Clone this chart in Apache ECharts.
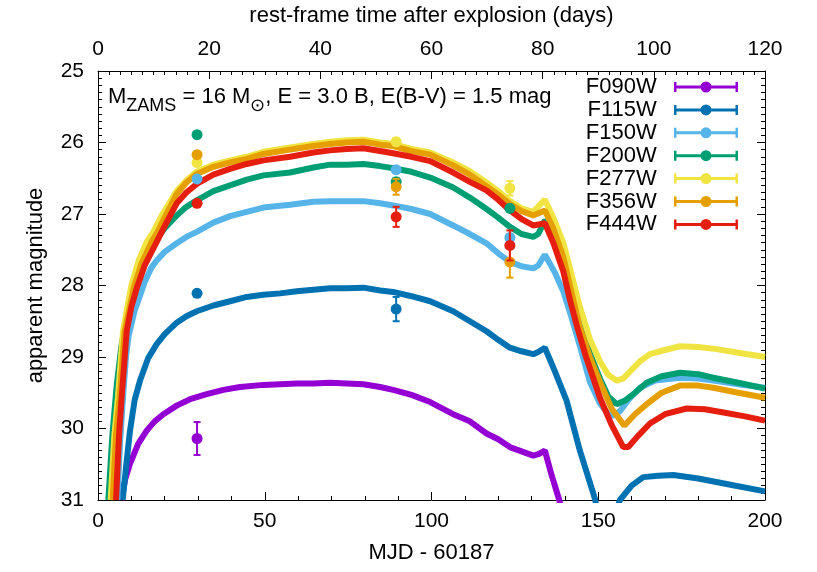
<!DOCTYPE html>
<html>
<head>
<meta charset="utf-8">
<script src="https://cdn.jsdelivr.net/npm/echarts@6/dist/echarts.min.js"></script>
<style>
  html, body { margin: 0; padding: 0; background: #fff; }
  #chart { width: 817px; height: 572px; }
</style>
</head>
<body>
<div id="chart"></div>
<script>
// model light curves: [MJD - 60187, apparent magnitude]
const f090w = [[7.0,31.0],[8.2,30.7],[9.6,30.49],[12,30.22],[14.6,30.03],[17,29.9],[19.6,29.8],[23.6,29.68],[27.6,29.59],[32.6,29.52],[37.6,29.46],[42.6,29.42],[49.6,29.39],[54.6,29.38],[59.6,29.37],[64.6,29.37],[69.6,29.36],[74.6,29.37],[79.6,29.38],[84.6,29.42],[88.5,29.46],[94,29.53],[99.6,29.63],[106.5,29.8],[111.5,29.9],[116.5,30.07],[120,30.15],[123.5,30.26],[127,30.32],[130.5,30.38],[132,30.36],[134,30.31],[136,30.65],[138.3,31.0],[140,31.3]]
const f115w = [[7.4,31.0],[8.5,30.5],[9.6,30.03],[11,29.6],[12.6,29.33],[15,29.02],[17.6,28.82],[20,28.68],[23.6,28.52],[26.5,28.43],[29.6,28.36],[34.6,28.28],[39.6,28.22],[44.6,28.16],[49.6,28.13],[54.6,28.11],[59.6,28.08],[64.6,28.06],[69.6,28.04],[74.6,28.04],[79.6,28.03],[84.6,28.07],[88.5,28.09],[94,28.15],[99.6,28.22],[106.5,28.36],[111.5,28.5],[116.5,28.64],[120,28.76],[123.5,28.87],[127,28.92],[130.5,28.96],[132,28.93],[134,28.87],[137,29.2],[140.5,29.61],[144.5,30.31],[149,30.98],[150,31.2],[152,'-'],[155,31.2],[156.5,31.0],[160,30.8],[163.5,30.68],[168,30.66],[172.5,30.65],[180,30.7],[190,30.79],[200,30.88]]
const f150w = [[5.8,31.0],[6.6,30.2],[7.5,29.56],[8.4,29.0],[9.2,28.7],[11,28.35],[12.6,28.14],[14,27.95],[16,27.75],[17.6,27.65],[20,27.53],[23.6,27.41],[26.5,27.32],[29.6,27.25],[34.6,27.12],[39.6,27.03],[44.6,26.97],[49.6,26.91],[57.6,26.87],[64.6,26.83],[69.6,26.82],[74.6,26.82],[79.6,26.82],[84.6,26.85],[88.5,26.88],[94,26.93],[99.6,27.0],[106.5,27.16],[111.5,27.28],[116.5,27.41],[120,27.55],[123.5,27.67],[127,27.73],[130.5,27.76],[132,27.72],[134,27.57],[137,27.82],[139.5,28.08],[142,28.45],[144.5,28.85],[147.5,29.35],[150.5,29.65],[153,29.8],[154.5,29.82],[156.5,29.76],[159,29.6],[162.5,29.43],[167,29.33],[174.5,29.29],[180,29.3],[184.5,29.33],[192,29.38],[200,29.43]]
const f200w = [[3.1,31.0],[4.3,30.1],[5.6,29.4],[7,28.85],[8.6,28.45],[10,28.15],[12,27.85],[14,27.62],[16,27.47],[18,27.33],[20,27.2],[23.6,27.02],[26.5,26.9],[29.6,26.81],[34.6,26.68],[39.6,26.6],[44.6,26.52],[49.6,26.46],[57.6,26.42],[64.6,26.35],[69.6,26.31],[74.6,26.31],[79.6,26.3],[84.6,26.33],[88.5,26.36],[94,26.41],[99.6,26.49],[106.5,26.63],[111.5,26.77],[116.5,26.93],[120,27.05],[123.5,27.18],[127,27.28],[130.5,27.32],[132,27.28],[134,27.09],[136.5,27.2],[139.5,27.5],[142,27.95],[144.5,28.45],[147.5,28.95],[150.5,29.3],[153,29.55],[155.5,29.66],[158,29.61],[161,29.5],[164.5,29.36],[169,29.27],[174.5,29.22],[180,29.24],[184.5,29.29],[192,29.36],[200,29.44]]
const f277w = [[3.8,31.0],[4.9,30.1],[6.0,29.56],[7.5,28.64],[10,28.0],[12.2,27.65],[14.6,27.39],[16.6,27.25],[19,27.03],[21,26.88],[23.6,26.68],[26.5,26.53],[29.6,26.41],[34.6,26.31],[39.6,26.25],[44.6,26.2],[49.6,26.13],[57.6,26.07],[64.6,26.02],[69.6,25.99],[74.6,25.97],[79.6,25.96],[84.6,26.0],[88.5,26.02],[94,26.09],[99.6,26.14],[106.5,26.28],[111.5,26.4],[116.5,26.56],[120,26.68],[123.5,26.82],[127,26.92],[130.5,26.97],[134,26.8],[136.5,27.05],[139.5,27.4],[142,27.85],[144.5,28.3],[147.5,28.75],[150.5,29.06],[153,29.25],[155.5,29.33],[157.5,29.3],[160,29.18],[162.5,29.06],[165.5,28.96],[168.5,28.92],[174.5,28.85],[180,28.86],[185.5,28.89],[192,28.94],[200,29.0]]
const f356w = [[4.4,31.0],[5.4,30.1],[6.5,29.56],[8.0,28.64],[10.8,28.02],[13,27.7],[16.1,27.39],[17.9,27.25],[20,27.05],[23.6,26.72],[26.5,26.56],[29.6,26.44],[34.6,26.34],[39.6,26.28],[44.6,26.23],[49.6,26.16],[57.6,26.1],[64.6,26.05],[69.6,26.02],[74.6,26.0],[79.6,25.99],[84.6,26.03],[88.5,26.05],[94,26.12],[99.6,26.17],[106.5,26.32],[111.5,26.45],[116.5,26.61],[120,26.73],[123.5,26.86],[127,26.96],[130.5,27.02],[134,26.95],[136.5,27.2],[139.5,27.6],[142,28.1],[144.5,28.59],[147.5,29.0],[150.5,29.35],[154,29.72],[157.8,29.96],[161,29.8],[164.5,29.66],[169,29.5],[174.5,29.4],[180,29.4],[184.5,29.43],[192,29.5],[200,29.57]]
const f444w = [[5.4,31.0],[6.3,30.1],[7.1,29.56],[8.6,28.64],[10,28.3],[11.6,28.04],[14,27.72],[17.6,27.39],[19.1,27.25],[21,27.08],[23.6,26.85],[26.5,26.7],[29.6,26.58],[34.6,26.45],[39.6,26.37],[44.6,26.3],[49.6,26.25],[57.6,26.2],[64.6,26.14],[69.6,26.11],[74.6,26.09],[79.6,26.08],[84.6,26.12],[88.5,26.15],[94,26.2],[99.6,26.26],[106.5,26.42],[111.5,26.55],[116.5,26.67],[120,26.8],[123.5,26.95],[127,27.07],[130.5,27.16],[134,27.13],[136.5,27.4],[139.5,27.8],[141.5,28.2],[143.5,28.55],[146,28.95],[150.5,29.57],[154,29.95],[157.5,30.26],[159,30.26],[162,30.1],[165.5,29.93],[170,29.8],[176.5,29.72],[182,29.73],[188,29.78],[194,29.83],[200,29.89]]

// observed photometry: [MJD - 60187, magnitude, error]
const obsF090W = [[29.7,30.14,0.23]]
const obsF115W = [[29.7,28.11,0.03],[89.4,28.33,0.17]]
const obsF150W = [[29.7,26.51,0.02],[89.4,26.38,0.03],[123.5,27.33,0.05]]
const obsF200W = [[29.7,25.89,0.02],[89.4,26.55,0.05],[123.5,26.92,0.04]]
const obsF277W = [[29.7,26.28,0.02],[89.4,25.99,0.05],[123.5,26.64,0.1]]
const obsF356W = [[29.7,26.17,0.02],[89.4,26.62,0.11],[123.5,27.67,0.22]]
const obsF444W = [[29.7,26.85,0.03],[89.4,27.04,0.14],[123.5,27.44,0.21]]

const filters = ['F090W','F115W','F150W','F200W','F277W','F356W','F444W']
const colors = ['#9400D3','#0072B2','#56B4E9','#009E73','#F0E442','#E69F00','#E51E10']
const models = [f090w, f115w, f150w, f200w, f277w, f356w, f444w]
const obs = [obsF090W, obsF115W, obsF150W, obsF200W, obsF277W, obsF356W, obsF444W]

const FONT = '"Liberation Sans", Arial, Helvetica, sans-serif'

// legend icon: line with caps and a dot (64 x 12)
const legendIcon = 'path://M2 4.5H27V7.5H2Z M37 4.5H62V7.5H37Z M0 1H2.5V11H0Z M61.5 1H64V11H61.5Z M26.5 6A5.5 5.5 0 1 1 37.5 6A5.5 5.5 0 1 1 26.5 6Z'

function renderErr(params, api) {
    const x = api.value(0), y = api.value(1), e = api.value(2)
    const c = api.coord([x, y])
    const t = api.coord([x, y - e])
    const b = api.coord([x, y + e])
    const color = api.visual('color')
    const st = {stroke: color, lineWidth: 2}
    return {
        type: 'group',
        children: [
            {type: 'line', shape: {x1: c[0], y1: t[1], x2: c[0], y2: b[1]}, style: st},
            {type: 'line', shape: {x1: c[0] - 3.5, y1: t[1], x2: c[0] + 3.5, y2: t[1]}, style: st},
            {type: 'line', shape: {x1: c[0] - 3.5, y1: b[1], x2: c[0] + 3.5, y2: b[1]}, style: st},
            {type: 'circle', shape: {cx: c[0], cy: c[1], r: 5.5}, style: {fill: color}}
        ]
    }
}

let series = []
filters.forEach((f, i) => {
    series.push({
        name: f,
        type: 'line',
        xAxisIndex: 0,
        yAxisIndex: 0,
        data: models[i],
        showSymbol: false,
        symbol: 'none',
        clip: true,
        z: 2,
        itemStyle: {color: colors[i]},
        lineStyle: {color: colors[i], width: 6}
    })
})
filters.forEach((f, i) => {
    series.push({
        name: f,
        type: 'custom',
        xAxisIndex: 0,
        yAxisIndex: 0,
        data: obs[i],
        renderItem: renderErr,
        clip: true,
        z: 3,
        itemStyle: {color: colors[i]}
    })
})

const axisCommon = {
    axisLine: {show: true, onZero: false, lineStyle: {color: '#000', width: 1}},
    axisTick: {show: true, inside: true, length: 8, lineStyle: {color: '#000', width: 1}},
    minorTick: {show: true, length: 4, lineStyle: {color: '#000', width: 1}},
    splitLine: {show: false},
    axisLabel: {fontSize: 21, color: '#000', fontFamily: FONT},
    nameTextStyle: {fontSize: 22, color: '#000', fontFamily: FONT}
}

let myChart = echarts.init(document.getElementById('chart'))
myChart.setOption({
    animation: false,
    backgroundColor: '#fff',
    grid: {left: 98, right: 52, top: 68, bottom: 72, containLabel: false},
    xAxis: [
        Object.assign({}, axisCommon, {
            type: 'value', position: 'bottom', min: 0, max: 200, interval: 50,
            minorTick: Object.assign({}, axisCommon.minorTick, {splitNumber: 5}),
            axisLabel: Object.assign({}, axisCommon.axisLabel, {margin: 11}),
            name: 'MJD - 60187', nameLocation: 'middle', nameGap: 42
        }),
        Object.assign({}, axisCommon, {
            type: 'value', position: 'top', min: 0, max: 120, interval: 20,
            minorTick: Object.assign({}, axisCommon.minorTick, {splitNumber: 10}),
            axisLabel: Object.assign({}, axisCommon.axisLabel, {margin: 11}),
            name: 'rest-frame time after explosion (days)', nameLocation: 'middle', nameGap: 44
        })
    ],
    yAxis: [
        Object.assign({}, axisCommon, {
            type: 'value', position: 'left', inverse: true, min: 25, max: 31, interval: 1,
            minorTick: Object.assign({}, axisCommon.minorTick, {splitNumber: 10}),
            axisLabel: Object.assign({}, axisCommon.axisLabel, {margin: 14}),
            name: 'apparent magnitude', nameLocation: 'middle', nameGap: 51
        }),
        Object.assign({}, axisCommon, {
            type: 'value', position: 'right', inverse: true, min: 25, max: 31, interval: 1,
            minorTick: Object.assign({}, axisCommon.minorTick, {splitNumber: 10}),
            axisLabel: {show: false}
        })
    ],
    legend: {
        orient: 'vertical',
        right: 74,
        top: 71,
        align: 'right',
        itemWidth: 64,
        itemHeight: 12,
        itemGap: 0.9,
        selectedMode: false,
        itemStyle: {borderWidth: 0},
        textStyle: {fontSize: 22, color: '#000', fontFamily: FONT, lineHeight: 20},
        formatter: name => name + '  ',
        data: filters.map((f, i) => ({name: f, icon: legendIcon, itemStyle: {color: colors[i], borderWidth: 0}}))
    },
    graphic: [{
        type: 'text',
        left: 108,
        top: 86,
        z: 10,
        style: {
            text: '{a|M}{s|ZAMS}{a| = 16 M}{s|⊙}{a|, E = 3.0 B, E(B-V) = 1.5 mag}',
            fill: '#000',
            rich: {
                a: {fontSize: 22, fontFamily: FONT, fill: '#000', lineHeight: 28, verticalAlign: 'top'},
                s: {fontSize: 18, fontFamily: FONT, fill: '#000', lineHeight: 18, padding: [11, 0, 0, 0], verticalAlign: 'top'}
            }
        }
    }],
    series: series
})
</script>
</body>
</html>
